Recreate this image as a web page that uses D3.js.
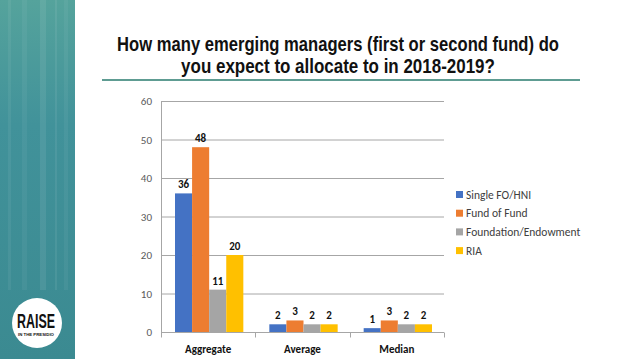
<!DOCTYPE html>
<html><head><meta charset="utf-8">
<script src="https://cdn.jsdelivr.net/npm/d3@7"></script>
<style>body{margin:0;background:#fff}svg{display:block}</style>
</head><body><svg id="c" width="638" height="359"></svg>
<script>
const categories = ["Aggregate", "Average", "Median"];
const seriesNames = ["Single FO/HNI", "Fund of Fund", "Foundation/Endowment", "RIA"];
const singleFO = [36, 2, 1];
const fundOfFund = [48, 3, 3];
const foundation = [11, 2, 2];
const ria = [20, 2, 2];
const yTicks = [0, 10, 20, 30, 40, 50, 60];
const colors = ["#4472C4", "#ED7D31", "#A5A5A5", "#FFC000"];
const titleLines = ["How many emerging managers (first or second fund) do", "you expect to allocate to in 2018-2019?"];

const series = [singleFO, fundOfFund, foundation, ria];
const svg = d3.select("#c");

// left teal strip
const defs = svg.append("defs");
const g1 = defs.append("linearGradient").attr("id","strip").attr("x1",0).attr("y1",0).attr("x2",0).attr("y2",1);
g1.append("stop").attr("offset","0%").attr("stop-color","#55a39c");
g1.append("stop").attr("offset","35%").attr("stop-color","#41929a");
g1.append("stop").attr("offset","100%").attr("stop-color","#3b8a91");
svg.append("rect").attr("x",0).attr("y",0).attr("width",75).attr("height",359).attr("fill","url(#strip)");
const streaks = [[8,3,0.06],[22,5,0.05],[40,6,0.08],[55,2,0.07],[64,4,0.05]];
streaks.forEach(s => svg.append("rect").attr("x",s[0]).attr("y",0).attr("width",s[1]).attr("height",290).attr("fill","#ffffff").attr("opacity",s[2]));
// logo
svg.append("circle").attr("cx",37).attr("cy",323).attr("r",25).attr("fill","#fff");
function squeeze(sel, cx, cy, w) {
  const n = sel.node(); const L = n.getComputedTextLength();
  sel.attr("transform", `translate(${cx},${cy}) scale(${w/L},1)`);
}
const r1 = svg.append("text").attr("text-anchor","middle")
  .attr("font-family","'Liberation Sans','DejaVu Sans',sans-serif").attr("font-weight","bold")
  .attr("font-size",21).attr("fill","#111").text("RAISE");
squeeze(r1, 36, 328, 38);
const r2 = svg.append("text").attr("text-anchor","middle")
  .attr("font-family","'Liberation Sans',sans-serif").attr("font-weight","bold")
  .attr("font-size",4).attr("fill","#111").text("IN THE PRESIDIO");
squeeze(r2, 36, 336, 36);

// title
const titleLen = [442, 314];
svg.append("g").selectAll("text").data(titleLines).join("text")
  .attr("text-anchor","middle")
  .attr("font-family","'Liberation Sans',Arial,sans-serif").attr("font-weight","bold")
  .attr("font-size",20).attr("fill","#111").text(d=>d)
  .each(function(d,i){ squeeze(d3.select(this), 338, 51+i*22, titleLen[i]); });
svg.append("line").attr("x1",102).attr("x2",580).attr("y1",80).attr("y2",80)
  .attr("stroke","#5e9c92").attr("stroke-width",2);

// chart
const x0 = d3.scaleBand().domain(categories).range([161,444]).paddingInner(0).paddingOuter(0);
const x1 = d3.scaleBand().domain(d3.range(series.length)).range([14, x0.bandwidth()-12]);
const y = d3.scaleLinear().domain([0,60]).range([332,101]);
const font = "Calibri, Carlito, 'Open Sans', sans-serif";

svg.append("g").selectAll("line").data(yTicks.filter(t=>t>0)).join("line")
  .attr("x1",161).attr("x2",444).attr("y1",d=>y(d)+0.5).attr("y2",d=>y(d)+0.5)
  .attr("stroke","#a6a6a6").attr("stroke-width",1);
svg.append("line").attr("x1",161.5).attr("x2",161.5).attr("y1",y(60)).attr("y2",y(0)).attr("stroke","#a6a6a6");

svg.append("g").selectAll("text").data(yTicks).join("text")
  .attr("x",152).attr("y",d=>y(d)+4).attr("text-anchor","end")
  .attr("font-family",font).attr("font-size",11).attr("fill","#595959").text(d=>d);

const bars = [];
categories.forEach((c,ci)=>series.forEach((s,si)=>bars.push({c,si,v:s[ci]})));
svg.append("g").selectAll("rect").data(bars).join("rect")
  .attr("x",d=>x0(d.c)+x1(d.si)).attr("width",x1.bandwidth())
  .attr("y",d=>y(d.v)).attr("height",d=>y(0)-y(d.v)).attr("fill",d=>colors[d.si]);
svg.append("g").selectAll("text").data(bars).join("text")
  .attr("x",d=>x0(d.c)+x1(d.si)+x1.bandwidth()/2).attr("y",d=>y(d.v)-5)
  .attr("text-anchor","middle").attr("font-family",font).attr("font-weight","bold")
  .attr("font-size",11).attr("fill","#111").text(d=>d.v);

// x axis
const xa = svg.append("g").attr("transform",`translate(0,${y(0)+0.5})`);
xa.append("line").attr("x1",161).attr("x2",444).attr("stroke","#a6a6a6");
xa.selectAll("line.t").data([161,255.3,349.7,444]).join("line").attr("class","t")
  .attr("x1",d=>Math.round(d)+0.5).attr("x2",d=>Math.round(d)+0.5).attr("y1",0).attr("y2",5).attr("stroke","#a6a6a6");
svg.append("g").selectAll("text").data(categories).join("text")
  .attr("x",d=>x0(d)+x0.bandwidth()/2).attr("y",353).attr("text-anchor","middle")
  .attr("font-family",font).attr("font-weight","bold").attr("font-size",11).attr("fill","#111").text(d=>d);

// legend
const lg = svg.append("g").selectAll("g").data(seriesNames).join("g")
  .attr("transform",(d,i)=>`translate(456,${196+i*18.7})`);
lg.append("rect").attr("x",0).attr("y",-5).attr("width",7).attr("height",7).attr("fill",(d,i)=>colors[i]);
lg.append("text").attr("x",10).attr("y",2.5).attr("font-family",font).attr("font-size",11.5).attr("fill","#404040").text(d=>d);
</script></body></html>
